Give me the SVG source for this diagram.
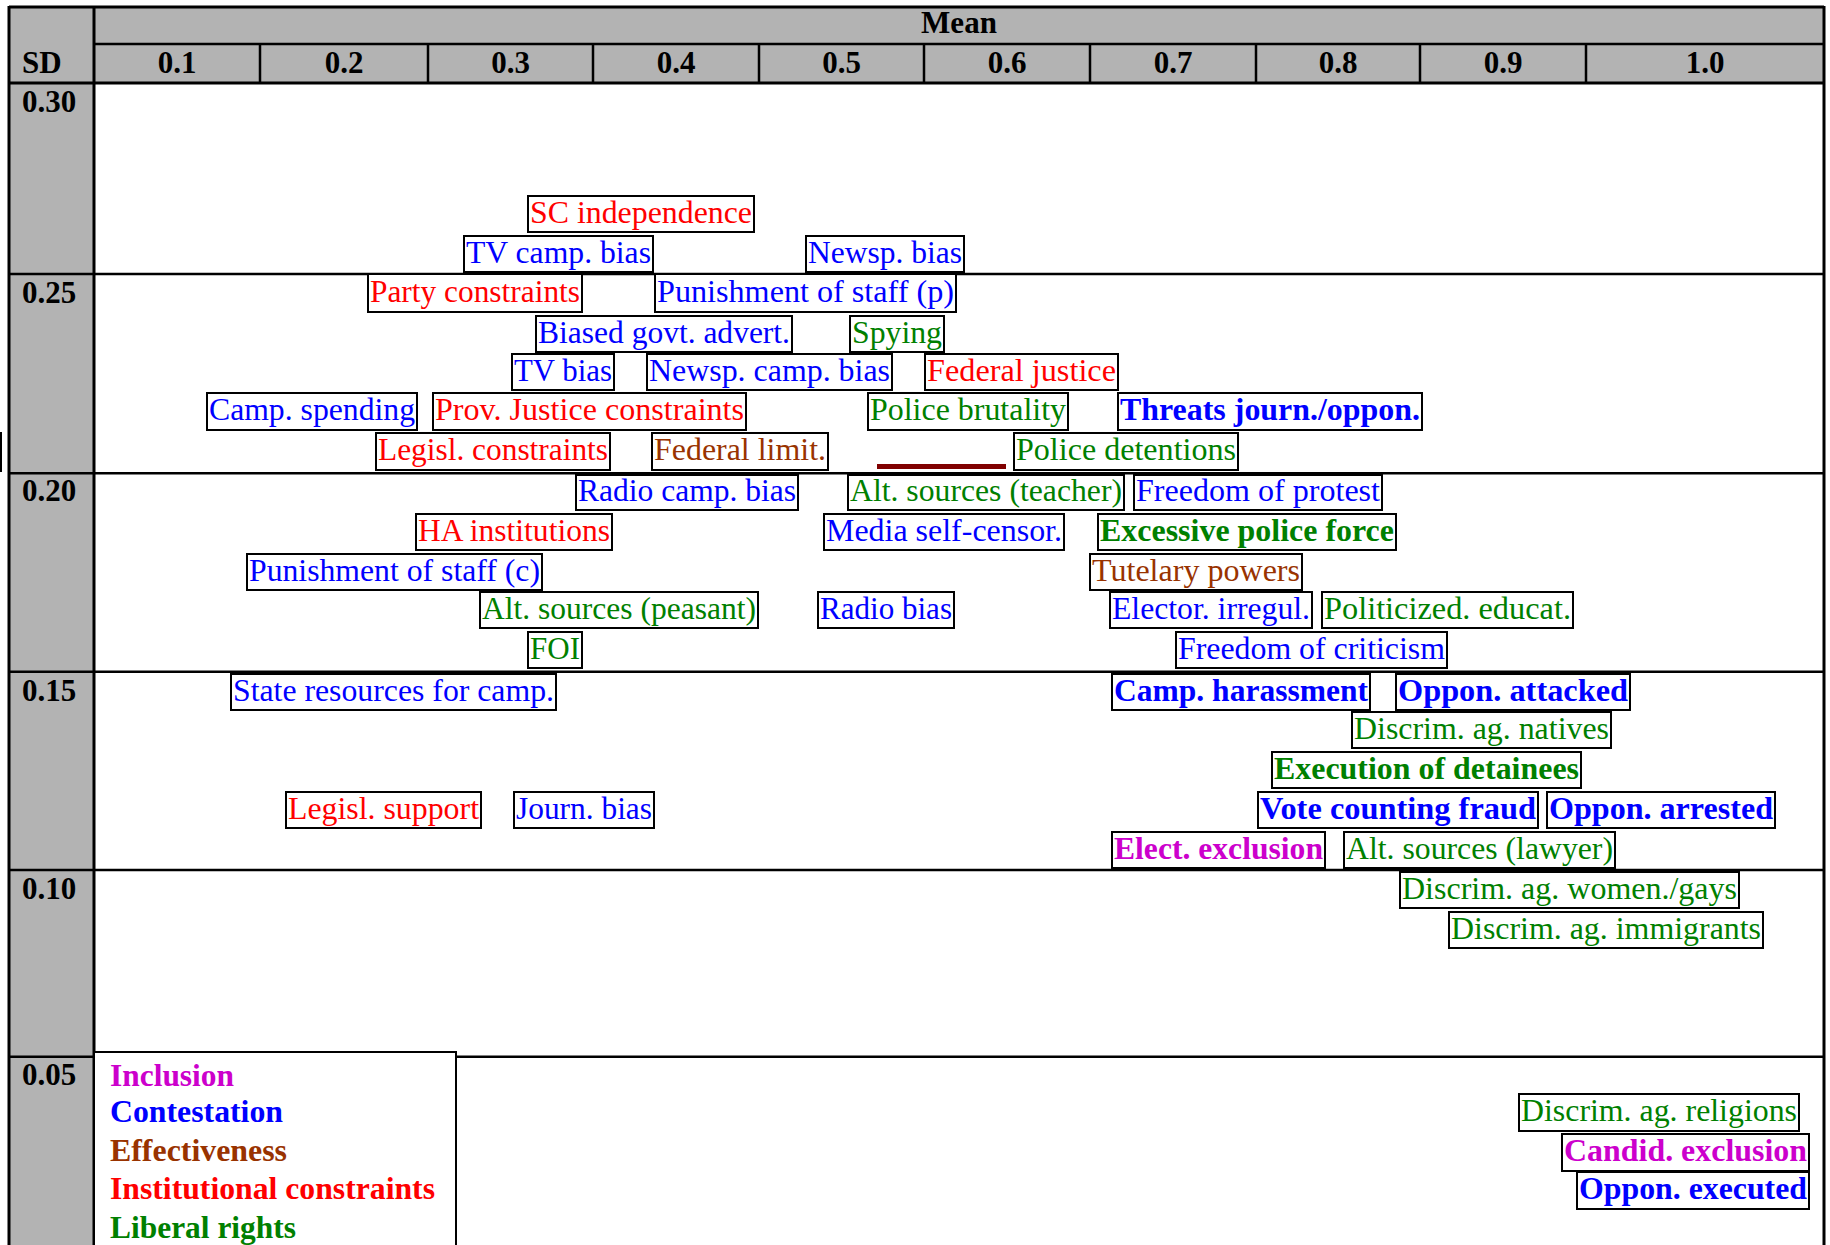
<svg xmlns="http://www.w3.org/2000/svg" width="1830" height="1245" viewBox="0 0 1830 1245">
<style>
.t{font-family:"Liberation Serif","Times New Roman",serif;font-size:31px}
.h{font-family:"Liberation Serif","Times New Roman",serif;font-size:31px;font-weight:bold;fill:#000}
.b{font-weight:bold}
.box{fill:#fff;stroke:#000;stroke-width:2}
.red{fill:#FF0000}.blue{fill:#0000FF}.green{fill:#008000}.brown{fill:#993300}.mag{fill:#CC00CC}
.grid{stroke:#000;stroke-width:2.5;fill:none}
</style>
<rect x="0" y="0" width="1830" height="1245" fill="#fff"/>
<g id="table">
<rect x="9" y="7" width="1815" height="76" fill="#B3B3B3"/>
<rect x="9" y="7" width="85" height="1238" fill="#B3B3B3"/>
<g class="grid">
<line x1="9" y1="7" x2="1824" y2="7" stroke-width="3"/>
<line x1="9" y1="6" x2="9" y2="1245" stroke-width="3"/>
<line x1="1824" y1="6" x2="1824" y2="1245" stroke-width="3"/>
<line x1="94" y1="7" x2="94" y2="1245" stroke-width="3"/>
<line x1="94" y1="44" x2="1824" y2="44"/>
<line x1="9" y1="83" x2="1824" y2="83" stroke-width="3"/>
<line x1="260" y1="44" x2="260" y2="83"/>
<line x1="428" y1="44" x2="428" y2="83"/>
<line x1="593" y1="44" x2="593" y2="83"/>
<line x1="759" y1="44" x2="759" y2="83"/>
<line x1="924" y1="44" x2="924" y2="83"/>
<line x1="1090" y1="44" x2="1090" y2="83"/>
<line x1="1256" y1="44" x2="1256" y2="83"/>
<line x1="1420" y1="44" x2="1420" y2="83"/>
<line x1="1586" y1="44" x2="1586" y2="83"/>
<line x1="9" y1="274" x2="1824" y2="274"/>
<line x1="9" y1="473.3" x2="1824" y2="473.3"/>
<line x1="9" y1="671.7" x2="1824" y2="671.7"/>
<line x1="9" y1="870" x2="1824" y2="870"/>
<line x1="9" y1="1056.7" x2="1824" y2="1056.7"/>
</g>
<rect x="0" y="432" width="2" height="40" fill="#000"/>
<text class="h" x="959" y="33" text-anchor="middle">Mean</text>
<text class="h" x="22" y="72.5">SD</text>
<g text-anchor="middle">
<text class="h" x="177" y="72.5">0.1</text>
<text class="h" x="344" y="72.5">0.2</text>
<text class="h" x="510.5" y="72.5">0.3</text>
<text class="h" x="676" y="72.5">0.4</text>
<text class="h" x="841.5" y="72.5">0.5</text>
<text class="h" x="1007" y="72.5">0.6</text>
<text class="h" x="1173" y="72.5">0.7</text>
<text class="h" x="1338" y="72.5">0.8</text>
<text class="h" x="1503" y="72.5">0.9</text>
<text class="h" x="1705" y="72.5">1.0</text>
</g>
<text class="h" x="22" y="111.5">0.30</text>
<text class="h" x="22" y="302.5">0.25</text>
<text class="h" x="22" y="501">0.20</text>
<text class="h" x="22" y="700.5">0.15</text>
<text class="h" x="22" y="898.5">0.10</text>
<text class="h" x="22" y="1085">0.05</text>
</g>
<g id="connectors">
<rect x="877" y="464" width="129" height="5" fill="#800000"/>
</g>
<g id="n1"><rect class="box" x="528" y="196" width="226" height="36"/><text class="t red" x="530" y="223" textLength="222" lengthAdjust="spacingAndGlyphs">SC independence</text></g>
<g id="n2"><rect class="box" x="464" y="236" width="189" height="36"/><text class="t blue" x="466" y="263" textLength="185" lengthAdjust="spacingAndGlyphs">TV camp. bias</text></g>
<g id="n3"><rect class="box" x="806" y="236" width="158" height="36"/><text class="t blue" x="808" y="263" textLength="154" lengthAdjust="spacingAndGlyphs">Newsp. bias</text></g>
<g id="n4"><rect class="box" x="368" y="274" width="214" height="38"/><text class="t red" x="370" y="302" textLength="210" lengthAdjust="spacingAndGlyphs">Party constraints</text></g>
<g id="n5"><rect class="box" x="655" y="274" width="301" height="38"/><text class="t blue" x="657" y="302" textLength="297" lengthAdjust="spacingAndGlyphs">Punishment of staff (p)</text></g>
<g id="n6"><rect class="box" x="536" y="316" width="256" height="36"/><text class="t blue" x="538" y="343" textLength="252" lengthAdjust="spacingAndGlyphs">Biased govt. advert.</text></g>
<g id="n7"><rect class="box" x="850" y="316" width="94" height="36"/><text class="t green" x="852" y="343" textLength="90" lengthAdjust="spacingAndGlyphs">Spying</text></g>
<g id="n8"><rect class="box" x="512" y="354" width="102" height="36"/><text class="t blue" x="514" y="381" textLength="98" lengthAdjust="spacingAndGlyphs">TV bias</text></g>
<g id="n9"><rect class="box" x="647" y="354" width="245" height="36"/><text class="t blue" x="649" y="381" textLength="241" lengthAdjust="spacingAndGlyphs">Newsp. camp. bias</text></g>
<g id="n10"><rect class="box" x="925" y="354" width="193" height="36"/><text class="t red" x="927" y="381" textLength="189" lengthAdjust="spacingAndGlyphs">Federal justice</text></g>
<g id="n11"><rect class="box" x="207" y="393" width="210" height="37"/><text class="t blue" x="209" y="420" textLength="206" lengthAdjust="spacingAndGlyphs">Camp. spending</text></g>
<g id="n12"><rect class="box" x="433" y="393" width="313" height="37"/><text class="t red" x="435" y="420" textLength="309" lengthAdjust="spacingAndGlyphs">Prov. Justice constraints</text></g>
<g id="n13"><rect class="box" x="868" y="393" width="200" height="37"/><text class="t green" x="870" y="420" textLength="196" lengthAdjust="spacingAndGlyphs">Police brutality</text></g>
<g id="n14"><rect class="box" x="1118" y="393" width="304" height="37"/><text class="t blue b" x="1120" y="420" textLength="300" lengthAdjust="spacingAndGlyphs">Threats journ./oppon.</text></g>
<g id="n15"><rect class="box" x="376" y="433" width="234" height="37"/><text class="t red" x="378" y="460" textLength="230" lengthAdjust="spacingAndGlyphs">Legisl. constraints</text></g>
<g id="n16"><rect class="box" x="652" y="433" width="176" height="37"/><text class="t brown" x="654" y="460" textLength="172" lengthAdjust="spacingAndGlyphs">Federal limit.</text></g>
<g id="n17"><rect class="box" x="1014" y="433" width="224" height="37"/><text class="t green" x="1016" y="460" textLength="220" lengthAdjust="spacingAndGlyphs">Police detentions</text></g>
<g id="n18"><rect class="box" x="576" y="475" width="222" height="35"/><text class="t blue" x="578" y="501" textLength="218" lengthAdjust="spacingAndGlyphs">Radio camp. bias</text></g>
<g id="n19"><rect class="box" x="848" y="475" width="276" height="35"/><text class="t green" x="850" y="501" textLength="272" lengthAdjust="spacingAndGlyphs">Alt. sources (teacher)</text></g>
<g id="n20"><rect class="box" x="1134" y="475" width="248" height="35"/><text class="t blue" x="1136" y="501" textLength="244" lengthAdjust="spacingAndGlyphs">Freedom of protest</text></g>
<g id="n21"><rect class="box" x="416" y="514" width="196" height="36"/><text class="t red" x="418" y="541" textLength="192" lengthAdjust="spacingAndGlyphs">HA institutions</text></g>
<g id="n22"><rect class="box" x="824" y="514" width="240" height="36"/><text class="t blue" x="826" y="541" textLength="236" lengthAdjust="spacingAndGlyphs">Media self-censor.</text></g>
<g id="n23"><rect class="box" x="1098" y="514" width="298" height="36"/><text class="t green b" x="1100" y="541" textLength="294" lengthAdjust="spacingAndGlyphs">Excessive police force</text></g>
<g id="n24"><rect class="box" x="247" y="554" width="295" height="36"/><text class="t blue" x="249" y="581" textLength="291" lengthAdjust="spacingAndGlyphs">Punishment of staff (c)</text></g>
<g id="n25"><rect class="box" x="1090" y="554" width="212" height="36"/><text class="t brown" x="1092" y="581" textLength="208" lengthAdjust="spacingAndGlyphs">Tutelary powers</text></g>
<g id="n26"><rect class="box" x="480" y="592" width="278" height="36"/><text class="t green" x="482" y="619" textLength="274" lengthAdjust="spacingAndGlyphs">Alt. sources (peasant)</text></g>
<g id="n27"><rect class="box" x="818" y="592" width="136" height="36"/><text class="t blue" x="820" y="619" textLength="132" lengthAdjust="spacingAndGlyphs">Radio bias</text></g>
<g id="n28"><rect class="box" x="1110" y="592" width="202" height="36"/><text class="t blue" x="1112" y="619" textLength="198" lengthAdjust="spacingAndGlyphs">Elector. irregul.</text></g>
<g id="n29"><rect class="box" x="1322" y="592" width="251" height="36"/><text class="t green" x="1324" y="619" textLength="247" lengthAdjust="spacingAndGlyphs">Politicized. educat.</text></g>
<g id="n30"><rect class="box" x="528" y="632" width="54" height="36"/><text class="t green" x="530" y="659" textLength="50" lengthAdjust="spacingAndGlyphs">FOI</text></g>
<g id="n31"><rect class="box" x="1176" y="632" width="271" height="36"/><text class="t blue" x="1178" y="659" textLength="267" lengthAdjust="spacingAndGlyphs">Freedom of criticism</text></g>
<g id="n32"><rect class="box" x="231" y="674" width="325" height="36"/><text class="t blue" x="233" y="701" textLength="321" lengthAdjust="spacingAndGlyphs">State resources for camp.</text></g>
<g id="n33"><rect class="box" x="286" y="792" width="195" height="36"/><text class="t red" x="288" y="819" textLength="191" lengthAdjust="spacingAndGlyphs">Legisl. support</text></g>
<g id="n34"><rect class="box" x="514" y="792" width="140" height="36"/><text class="t blue" x="516" y="819" textLength="136" lengthAdjust="spacingAndGlyphs">Journ. bias</text></g>
<g id="n35"><rect class="box" x="1112" y="674" width="258" height="36"/><text class="t blue b" x="1114" y="701" textLength="254" lengthAdjust="spacingAndGlyphs">Camp. harassment</text></g>
<g id="n36"><rect class="box" x="1396" y="674" width="234" height="36"/><text class="t blue b" x="1398" y="701" textLength="230" lengthAdjust="spacingAndGlyphs">Oppon. attacked</text></g>
<g id="n37"><rect class="box" x="1352" y="712" width="259" height="36"/><text class="t green" x="1354" y="739" textLength="255" lengthAdjust="spacingAndGlyphs">Discrim. ag. natives</text></g>
<g id="n38"><rect class="box" x="1272" y="752" width="309" height="36"/><text class="t green b" x="1274" y="779" textLength="305" lengthAdjust="spacingAndGlyphs">Execution of detainees</text></g>
<g id="n39"><rect class="box" x="1258" y="792" width="280" height="36"/><text class="t blue b" x="1260" y="819" textLength="276" lengthAdjust="spacingAndGlyphs">Vote counting fraud</text></g>
<g id="n40"><rect class="box" x="1547" y="792" width="228" height="36"/><text class="t blue b" x="1549" y="819" textLength="224" lengthAdjust="spacingAndGlyphs">Oppon. arrested</text></g>
<g id="n41"><rect class="box" x="1112" y="832" width="213" height="36"/><text class="t mag b" x="1114" y="859" textLength="209" lengthAdjust="spacingAndGlyphs">Elect. exclusion</text></g>
<g id="n42"><rect class="box" x="1344" y="832" width="271" height="36"/><text class="t green" x="1346" y="859" textLength="267" lengthAdjust="spacingAndGlyphs">Alt. sources (lawyer)</text></g>
<g id="n43"><rect class="box" x="1400" y="872" width="339" height="36"/><text class="t green" x="1402" y="899" textLength="335" lengthAdjust="spacingAndGlyphs">Discrim. ag. women./gays</text></g>
<g id="n44"><rect class="box" x="1449" y="912" width="314" height="36"/><text class="t green" x="1451" y="939" textLength="310" lengthAdjust="spacingAndGlyphs">Discrim. ag. immigrants</text></g>
<g id="n45"><rect class="box" x="1519" y="1094" width="280" height="37"/><text class="t green" x="1521" y="1121" textLength="276" lengthAdjust="spacingAndGlyphs">Discrim. ag. religions</text></g>
<g id="n46"><rect class="box" x="1562" y="1134" width="247" height="37"/><text class="t mag b" x="1564" y="1161" textLength="243" lengthAdjust="spacingAndGlyphs">Candid. exclusion</text></g>
<g id="n47"><rect class="box" x="1577" y="1172" width="232" height="37"/><text class="t blue b" x="1579" y="1199" textLength="228" lengthAdjust="spacingAndGlyphs">Oppon. executed</text></g>
<g id="legend">
<rect x="94" y="1052" width="362" height="200" fill="#fff" stroke="#000" stroke-width="2"/>
<text class="t b mag" x="110" y="1085.5" textLength="124" lengthAdjust="spacingAndGlyphs">Inclusion</text>
<text class="t b blue" x="110" y="1121.5" textLength="173" lengthAdjust="spacingAndGlyphs">Contestation</text>
<text class="t b brown" x="110" y="1161" textLength="177" lengthAdjust="spacingAndGlyphs">Effectiveness</text>
<text class="t b red" x="110" y="1199" textLength="325" lengthAdjust="spacingAndGlyphs">Institutional constraints</text>
<text class="t b green" x="110" y="1238" textLength="186" lengthAdjust="spacingAndGlyphs">Liberal rights</text>
</g>
</svg>
